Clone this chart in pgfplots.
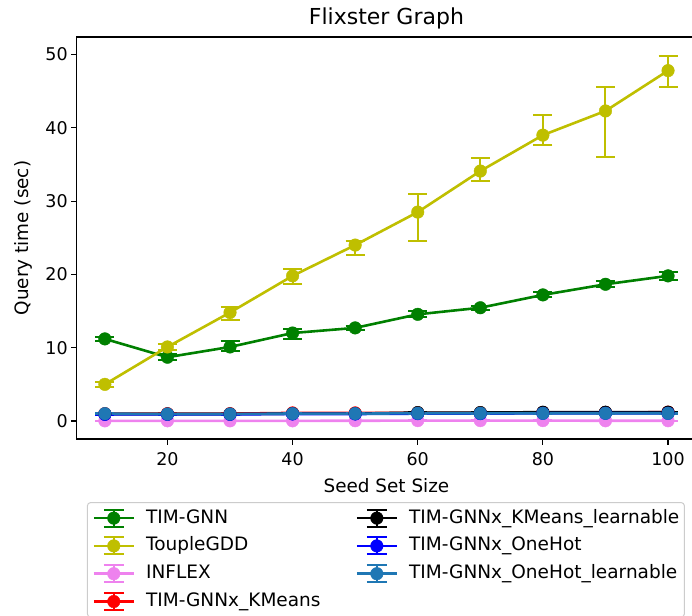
\documentclass[border=0pt]{standalone}
\usepackage{pgfplots}
\usepackage{pgfplotstable}
\pgfplotsset{compat=1.18}
\usepackage{fontspec}
\setmainfont{DejaVu Sans}
\definecolor{mgreen}{rgb}{0,0.5,0}
\definecolor{myellow}{rgb}{0.75,0.75,0}
\definecolor{mviolet}{HTML}{EE82EE}
\definecolor{mred}{rgb}{1,0,0}
\definecolor{mblue}{rgb}{0,0,1}
\definecolor{tabblue}{HTML}{1F77B4}
\definecolor{legframe}{HTML}{CCCCCC}
\pgfplotsset{
  legerr/.style={legend image code/.code={
    \draw[##1, mark=none] (0pt,0pt) -- (40pt,0pt);
    \draw[##1, mark=none, line width=2pt] (20pt,-8.5pt) -- (20pt,8.5pt) (10pt,-8.5pt) -- (30pt,-8.5pt) (10pt,8.5pt) -- (30pt,8.5pt);
    \draw[##1, only marks] plot coordinates {(20pt,0pt)};
  }},
  legser/.style={legerr, color=#1, line width=2.6pt, mark=*, mark size=6.3pt, mark options={fill=#1, draw=#1, solid, line width=0.4pt}},
  ser/.style={color=#1, line width=2.6pt, mark=*, mark size=6.3pt,
    mark options={fill=#1, draw=#1, solid, line width=0.4pt},
    error bars/y dir=both, error bars/y explicit,
    error bars/error bar style={line width=2pt, color=#1},
    error bars/error mark options={rotate=90, mark size=9.5pt, line width=2pt, color=#1}},
}
\pgfplotstableread{
x y ep em
10 11.2 0.25 0.25
20 8.7 0.4 0.4
30 10.1 0.8 0.5
40 12.0 0.6 0.8
50 12.7 0.3 0.3
60 14.55 0.4 0.4
70 15.45 0.3 0.3
80 17.2 0.35 0.35
90 18.65 0.4 0.4
100 19.8 0.5 0.5
}\timgnn
\pgfplotstableread{
x y ep em
10 5.0 0.3 0.3
20 10.1 0.4 0.4
30 14.8 0.8 1.0
40 19.8 1.0 1.1
50 24.0 0.55 1.35
60 28.5 2.5 3.9
70 34.1 1.8 1.3
80 39.0 2.8 1.4
90 42.3 3.3 6.3
100 47.8 2.05 2.3
}\touple
\pgfplotstableread{
x y ep em
10 0.02 0.03 0.03
20 0.02 0.03 0.03
30 0.02 0.03 0.03
40 0.02 0.03 0.03
50 0.03 0.03 0.03
60 0.05 0.03 0.03
70 0.05 0.03 0.03
80 0.05 0.03 0.03
90 0.03 0.03 0.03
100 0.03 0.03 0.03
}\inflex
\pgfplotstableread{
x y ep em
10 1.0 0.05 0.05
20 1.0 0.05 0.05
30 1.0 0.05 0.05
40 1.1 0.05 0.05
50 1.1 0.05 0.05
60 1.1 0.05 0.05
70 1.1 0.05 0.05
80 1.15 0.05 0.05
90 1.15 0.05 0.05
100 1.2 0.05 0.05
}\kmeans
\pgfplotstableread{
x y ep em
10 0.95 0.05 0.05
20 0.95 0.05 0.05
30 0.95 0.05 0.05
40 1.0 0.05 0.05
50 1.0 0.05 0.05
60 1.15 0.05 0.05
70 1.15 0.05 0.05
80 1.2 0.05 0.05
90 1.2 0.05 0.05
100 1.2 0.05 0.05
}\kmeanslearn
\pgfplotstableread{
x y ep em
10 0.9 0.05 0.05
20 0.9 0.05 0.05
30 0.9 0.05 0.05
40 0.95 0.05 0.05
50 0.95 0.05 0.05
60 1.0 0.05 0.05
70 1.0 0.05 0.05
80 1.05 0.05 0.05
90 1.05 0.05 0.05
100 1.05 0.05 0.05
}\onehot
\pgfplotstableread{
x y ep em
10 1.0 0.05 0.05
20 0.95 0.05 0.05
30 0.95 0.05 0.05
40 1.0 0.05 0.05
50 1.0 0.05 0.05
60 1.05 0.05 0.05
70 1.05 0.05 0.05
80 1.05 0.05 0.05
90 1.05 0.05 0.05
100 1.05 0.05 0.05
}\onehotlearn
\begin{document}
\begin{tikzpicture}
\begin{axis}[
  at={(76.7pt,-439pt)}, anchor=south west,
  scale only axis, width=619.5pt, height=402pt,
  xmin=5.5, xmax=104.5, ymin=-2.46, ymax=52.39,
  xtick={20,40,60,80,100}, ytick={0,10,20,30,40,50},
  tick align=outside, xtick pos=bottom, ytick pos=left,
  major tick length=5.5pt,
  every tick/.style={black, line width=1.1pt},
  axis line style={line width=1.1pt},
  tick label style={font=\fontsize{17.5}{20}\selectfont},
  xticklabel style={yshift=-4pt},
  /pgf/number format/assume math mode=true,
  every axis title shift=0pt,
  title={Flixster Graph},
  title style={font=\fontsize{22}{26}\selectfont, at={(axis description cs:0.5,1.047)}, anchor=center},
  xlabel={Seed Set Size},
  xlabel style={font=\fontsize{18.4}{22}\selectfont, at={(axis description cs:0.5,-0.117)}, anchor=center},
  ylabel={Query time (sec)},
  ylabel style={font=\fontsize{18.4}{22}\selectfont, at={(axis description cs:-0.0867,0.5)}, anchor=center},
  legend columns=2, legend cell align=left,
  legend style={at={(axis description cs:0.0166,-0.157)}, anchor=north west,
    draw=legframe, line width=1pt, rounded corners=3pt,
    font=\fontsize{18.5}{22}\selectfont, inner xsep=5pt, inner ysep=6pt, row sep=8.8pt,
    nodes={inner sep=0pt, text height=13.5pt, text depth=3.5pt},
    /tikz/every even column/.append style={column sep=35pt},
    /tikz/every odd column/.append style={column sep=11pt}},
]
\addplot[forget plot, ser=mgreen] table[x=x, y=y, y error plus=ep, y error minus=em] {\timgnn};
\addplot[forget plot, ser=myellow] table[x=x, y=y, y error plus=ep, y error minus=em] {\touple};
\addplot[forget plot, ser=mviolet] table[x=x, y=y, y error plus=ep, y error minus=em] {\inflex};
\addplot[forget plot, ser=mred] table[x=x, y=y, y error plus=ep, y error minus=em] {\kmeans};
\addplot[forget plot, ser=black] table[x=x, y=y, y error plus=ep, y error minus=em] {\kmeanslearn};
\addplot[forget plot, ser=mblue] table[x=x, y=y, y error plus=ep, y error minus=em] {\onehot};
\addplot[forget plot, ser=tabblue] table[x=x, y=y, y error plus=ep, y error minus=em] {\onehotlearn};
\addlegendimage{legser=mgreen}
\addlegendentry{TIM-GNN}
\addlegendimage{legser=black}
\addlegendentry{TIM-GNNx\_KMeans\_learnable}
\addlegendimage{legser=myellow}
\addlegendentry{ToupleGDD}
\addlegendimage{legser=mblue}
\addlegendentry{TIM-GNNx\_OneHot}
\addlegendimage{legser=mviolet}
\addlegendentry{INFLEX}
\addlegendimage{legser=tabblue}
\addlegendentry{TIM-GNNx\_OneHot\_learnable}
\addlegendimage{legser=mred}
\addlegendentry{TIM-GNNx\_KMeans}
\end{axis}
\pgfresetboundingbox
\useasboundingbox (0pt,0pt) rectangle (692pt,-615pt);
\end{tikzpicture}
\end{document}
